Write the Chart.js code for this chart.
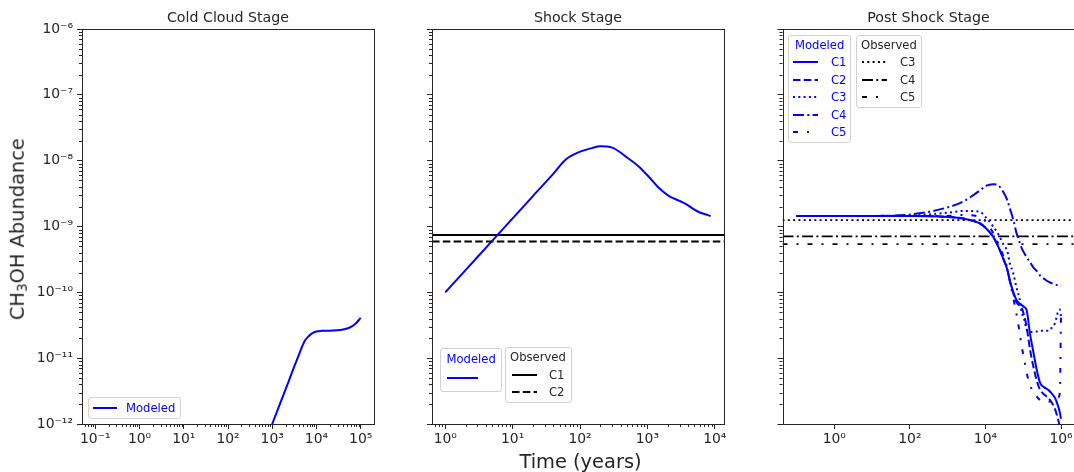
<!DOCTYPE html>
<html><head><meta charset="utf-8">
<script src="https://cdn.jsdelivr.net/npm/chart.js@4.4.1/dist/chart.umd.min.js"></script>
<style>
html,body{margin:0;padding:0;background:#fff;overflow:hidden;width:1074px;height:472px;}
#wrap{position:relative;width:1074px;height:472px;overflow:hidden;font-family:'DejaVu Sans',sans-serif;color:#1a1a1a;}
canvas{position:absolute;top:0;}
.t{position:absolute;white-space:nowrap;}
.box{position:absolute;border:1px solid #d2d2d2;border-radius:3px;background:rgba(255,255,255,0.85);box-sizing:border-box;}
svg{position:absolute;overflow:visible;}
</style></head><body><div id="wrap">
<canvas id="c1" width="380" height="472" style="left:0px"></canvas>
<canvas id="c2" width="350" height="472" style="left:380px"></canvas>
<canvas id="c3" width="350" height="472" style="left:730px"></canvas>
</div>
<script>
// ---------------- data ----------------
const panelTitles = ['Cold Cloud Stage', 'Shock Stage', 'Post Shock Stage'];
const yTicks = [1e-12, 1e-11, 1e-10, 1e-9, 1e-8, 1e-7, 1e-6];
const coldTicks = [1e-1, 1, 1e1, 1e2, 1e3, 1e4, 1e5];
const shockTicks = [1, 1e1, 1e2, 1e3, 1e4];
const postTicks = [1, 1e2, 1e4, 1e6];

const coldTime = [800, 1000, 1400, 1800, 2400, 3000, 4000, 4500, 5500, 6500, 7500, 8500, 10000, 13000, 20000, 35000, 55000, 75000, 100000];
const coldModeled = [6.8e-13, 1e-12, 1.8e-12, 2.8e-12, 4.6e-12, 6.9e-12, 1.12e-11, 1.38e-11, 1.85e-11, 2.12e-11, 2.32e-11, 2.45e-11, 2.55e-11, 2.6e-11, 2.62e-11, 2.68e-11, 2.9e-11, 3.3e-11, 4.1e-11];

const shockTime = [1, 2, 5, 10, 20, 40, 62, 98, 150, 200, 300, 480, 750, 1100, 1500, 2100, 3000, 3700, 5000, 5800, 7000, 8700];
const shockModeled = [1e-10, 2.18e-10, 6.1e-10, 1.33e-9, 2.9e-9, 6.3e-9, 1.05e-8, 1.36e-8, 1.55e-8, 1.65e-8, 1.58e-8, 1.15e-8, 8.1e-9, 5.4e-9, 3.8e-9, 2.9e-9, 2.45e-9, 2.2e-9, 1.8e-9, 1.66e-9, 1.55e-9, 1.44e-9];
const shockObservedLabels = ['C1', 'C2'];
const shockObserved = [7.4e-10, 5.9e-10];

const postTime = [0.1, 1, 10, 100, 1000, 2600, 7000, 10000, 16000, 22000, 30000, 38000, 44000, 55000, 67000, 80000, 91000, 105000, 123000, 150000, 185000, 230000, 280000, 360000, 460000, 570000, 690000, 830000, 930000, 1000000];
const postC1 = [1.45e-9, 1.45e-9, 1.45e-9, 1.45e-9, 1.4e-9, 1.32e-9, 1.12e-9, 9.6e-10, 7e-10, 4.9e-10, 3.2e-10, 2.2e-10, 1.53e-10, 1.0e-10, 7.6e-11, 6.8e-11, 6.4e-11, 6.0e-11, 5.4e-11, 2.4e-11, 1.25e-11, 6.5e-12, 4.2e-12, 3.6e-12, 3.3e-12, 2.9e-12, 2.5e-12, 1.9e-12, 1.5e-12, 1.2e-12];
const postC2 = [1.45e-9, 1.45e-9, 1.45e-9, 1.45e-9, 1.4e-9, 1.32e-9, 1.12e-9, 9.6e-10, 7e-10, 4.9e-10, 3.2e-10, 2.2e-10, 1.5e-10, 9.5e-11, 7e-11, 6.3e-11, 5.8e-11, 4.5e-11, 3e-11, 1.4e-11, 7.5e-12, 4.5e-12, 3.3e-12, 2.8e-12, 2.5e-12, 2.1e-12, 1.7e-12, 1.2e-12, 9e-13, 7e-13];
const postC3 = [1.45e-9, 1.45e-9, 1.45e-9, 1.46e-9, 1.62e-9, 1.72e-9, 1.68e-9, 1.4e-9, 1.0e-9, 7.6e-10, 5.3e-10, 4.2e-10, 2.8e-10, 1.9e-10, 1.15e-10, 8e-11, 5e-11, 4e-11, 2.7e-11, 2.5e-11, 2.5e-11, 2.55e-11, 2.6e-11, 2.6e-11, 2.6e-11, 2.9e-11, 3.4e-11, 5e-11, 5.5e-11, 4.3e-11];
const postC4 = [1.45e-9, 1.45e-9, 1.45e-9, 1.52e-9, 1.95e-9, 2.4e-9, 3.5e-9, 4.1e-9, 4.4e-9, 4.2e-9, 3.3e-9, 2.5e-9, 1.9e-9, 1.25e-9, 7.8e-10, 5.8e-10, 4.7e-10, 4e-10, 3.4e-10, 2.9e-10, 2.4e-10, 2.1e-10, 1.8e-10, 1.6e-10, 1.45e-10, 1.38e-10, 1.32e-10, 1.28e-10, 1.26e-10, 1.24e-10];
const postC5 = [1.45e-9, 1.45e-9, 1.45e-9, 1.45e-9, 1.45e-9, 1.5e-9, 1.4e-9, 1.2e-9, 8e-10, 5.5e-10, 3.5e-10, 2.3e-10, 1.5e-10, 8e-11, 4.5e-11, 2.5e-11, 1.5e-11, 1.0e-11, 6e-12, 4e-12, 3e-12, 2.6e-12, 2.3e-12, 2.2e-12, 2.2e-12, 2.2e-12, 2.3e-12, 2.5e-12, 3e-12, 4.5e-11];
const postModeledLabels = ['C1', 'C2', 'C3', 'C4', 'C5'];
const postObservedLabels = ['C3', 'C4', 'C5'];
const postObserved = [1.25e-9, 7.1e-10, 5.4e-10];

// ---------------- styles ----------------
const BLUE = '#0000ff', BLACK = '#000000', TXT = '#262626';
const FONT = "'DejaVu Sans', sans-serif";
const DASH = {
  solid: [], dashed: [7.5, 3.3], dotted: [2, 3.3],
  dashdot: [11, 3.3, 2, 3.3], loose: [5, 9, 2, 9]
};
const modeledStyles = [DASH.solid, DASH.dashed, DASH.dotted, DASH.dashdot, DASH.loose];
const observedStyleMap = {C1: DASH.solid, C2: DASH.dashed, C3: DASH.dotted, C4: DASH.dashdot, C5: DASH.loose};

const SUP = {'-':'\u207B','0':'\u2070','1':'\u00B9','2':'\u00B2','3':'\u00B3','4':'\u2074','5':'\u2075','6':'\u2076','7':'\u2077','8':'\u2078','9':'\u2079'};
function fmtPow(v){ const e = Math.round(Math.log10(v)); return '10' + String(e).split('').map(c=>SUP[c]).join(''); }

const framePlugin = {
  id: 'frame',
  afterDraw(chart, args, opts) {
    const {ctx, chartArea: a, scales} = chart;
    ctx.save();
    ctx.strokeStyle = TXT; ctx.lineWidth = 1;
    function minors(scale, axis) {
      const lo = Math.floor(Math.log10(scale.min)), hi = Math.ceil(Math.log10(scale.max));
      ctx.beginPath();
      for (let d = lo; d <= hi; d++) for (let k = 2; k <= 9; k++) {
        const v = k * Math.pow(10, d);
        if (v < scale.min || v > scale.max) continue;
        const p = Math.round(scale.getPixelForValue(v)) + 0.5;
        if (axis === 'x') { ctx.moveTo(p, a.bottom); ctx.lineTo(p, a.bottom + 3); }
        else { ctx.moveTo(a.left, p); ctx.lineTo(a.left - 3, p); }
      }
      ctx.stroke();
    }
    if (opts.minorX) minors(scales.x, 'x');
    minors(scales.y, 'y');
    ctx.strokeRect(Math.round(a.left) + 0.5, Math.round(a.top) + 0.5, Math.round(a.right - a.left), Math.round(a.bottom - a.top));
    ctx.restore();
  }
};

function line(xs, ys, color, dash, width) {
  return { data: xs.map((x, i) => ({x, y: ys[i]})), borderColor: color, borderDash: dash, borderWidth: width || 2,
    pointRadius: 0, fill: false, cubicInterpolationMode: 'monotone', borderCapStyle: 'butt' };
}
function hline(xmin, xmax, y, dash, width) {
  return { data: [{x: xmin, y}, {x: xmax, y}], borderColor: BLACK, borderDash: dash, borderWidth: width || 1.8,
    pointRadius: 0, fill: false, tension: 0, borderCapStyle: 'butt' };
}

function makeChart(id, datasets, xmin, xmax, xticks, yWidth, padRight, showY, minorX) {
  new Chart(document.getElementById(id), {
    type: 'line',
    data: { datasets },
    plugins: [framePlugin],
    options: {
      responsive: false, animation: false, events: [],
      layout: { padding: { top: 29, right: padRight, left: 0, bottom: 0 } },
      plugins: { legend: { display: false }, tooltip: { enabled: false }, frame: { minorX } },
      scales: {
        x: { type: 'logarithmic', min: xmin, max: xmax, bounds: 'data',
          afterBuildTicks: s => { s.ticks = xticks.map(v => ({value: v})); },
          afterFit: s => { s.height = 48; },
          grid: { display: true, drawOnChartArea: false, drawTicks: true, tickLength: 5, color: TXT, lineWidth: 1 },
          border: { display: false },
          ticks: { callback: v => fmtPow(v), font: { family: FONT, size: 13.9 }, color: TXT, padding: 2, maxRotation: 0, autoSkip: false }
        },
        y: { type: 'logarithmic', min: 1e-12, max: 1e-6, bounds: 'data',
          afterBuildTicks: s => { s.ticks = yTicks.map(v => ({value: v})); },
          afterFit: s => { s.width = yWidth; },
          grid: { display: true, drawOnChartArea: false, drawTicks: true, tickLength: 5, color: TXT, lineWidth: 1 },
          border: { display: false },
          ticks: { display: showY, callback: v => fmtPow(v), font: { family: FONT, size: 13.9 }, color: TXT, padding: 4, autoSkip: false }
        }
      }
    }
  });
}

// panel 1
const c1min = Math.pow(10, -1.3), c1max = Math.pow(10, 5.3);
makeChart('c1', [line(coldTime, coldModeled, BLUE, DASH.solid)], c1min, c1max, coldTicks, 82, 6, true, true);

// panel 2
const c2min = Math.pow(10, -0.197), c2max = Math.pow(10, 4.137);
const ds2 = [line(shockTime, shockModeled, BLUE, DASH.solid)];
shockObserved.forEach((v, i) => ds2.push(hline(c2min, c2max, v, observedStyleMap[shockObservedLabels[i]], 2)));
makeChart('c2', ds2, c2min, c2max, shockTicks, 52, 6, false, true);

// panel 3
const c3min = Math.pow(10, -1.37), c3max = Math.pow(10, 6.37);
const postSeries = [postC1, postC2, postC3, postC4, postC5];
const ds3 = postSeries.map((s, i) => line(postTime, s, BLUE, modeledStyles[i]));
postObserved.forEach((v, i) => ds3.push(hline(c3min, c3max, v, observedStyleMap[postObservedLabels[i]], 1.8)));
makeChart('c3', ds3, c3min, c3max, postTicks, 52.5, 5, false, false);

// ---------------- text & legends (HTML) ----------------
const wrap = document.getElementById('wrap');
function addText(html, left, top, size, color, extra) {
  const d = document.createElement('div'); d.className = 't';
  d.innerHTML = html; d.style.left = left + 'px'; d.style.top = top + 'px';
  d.style.fontSize = size + 'px'; d.style.color = color || TXT;
  if (extra) Object.assign(d.style, extra);
  wrap.appendChild(d); return d;
}
function addBox(x, y, w, h) {
  const d = document.createElement('div'); d.className = 'box';
  Object.assign(d.style, {left: x + 'px', top: y + 'px', width: w + 'px', height: h + 'px'});
  wrap.appendChild(d);
}
function addLine(x1, x2, y, color, dash, width) {
  const ns = 'http://www.w3.org/2000/svg';
  const s = document.createElementNS(ns, 'svg');
  s.setAttribute('width', x2 - x1); s.setAttribute('height', 6);
  s.style.left = x1 + 'px'; s.style.top = (y - 3) + 'px';
  const l = document.createElementNS(ns, 'line');
  l.setAttribute('x1', 0); l.setAttribute('x2', x2 - x1); l.setAttribute('y1', 3); l.setAttribute('y2', 3);
  l.setAttribute('stroke', color); l.setAttribute('stroke-width', width || 2);
  if (dash.length) l.setAttribute('stroke-dasharray', dash.join(' '));
  s.appendChild(l); wrap.appendChild(s);
}
const LEG = 11.6;
function legText(t, x, cy, color) { addText(t, x, cy - 8, LEG, color, {lineHeight: '16px'}); }

// titles
const centers = [228, 578, 928.5];
panelTitles.forEach((t, i) => addText(t, centers[i] - 150, 8, 14.2, TXT, {width: '300px', textAlign: 'center', lineHeight: '18px'}));
// axis labels
addText('Time (years)', 580.5 - 150, 450.3, 19.4, TXT, {width: '300px', textAlign: 'center', lineHeight: '24px'});
addText('CH<sub style="font-size:0.7em;vertical-align:-0.25em">3</sub>OH Abundance', 19.5 - 150, 226.5 - 12, 19.4, TXT,
  {width: '300px', textAlign: 'center', lineHeight: '24px', transform: 'rotate(-90deg)'});

// legend panel 1
addBox(88, 397, 93, 22);
addLine(93, 117, 407.5, BLUE, DASH.solid, 2);
legText('Modeled', 126, 407.5, BLUE);

// legends panel 2
addBox(440, 348, 62, 44);
legText('Modeled', 446.5, 359, BLUE);
addLine(447, 478, 378, BLUE, DASH.solid, 2);
addBox(505, 347, 67, 56);
legText('Observed', 510, 357, TXT);
shockObservedLabels.forEach((lab, i) => {
  const y = 374.5 + i * 17.5;
  addLine(512, 537, y, BLACK, observedStyleMap[lab], 2);
  legText(lab, 549, y, TXT);
});

// legends panel 3
addBox(788, 35, 63, 108);
legText('Modeled', 795, 45, BLUE);
postModeledLabels.forEach((lab, i) => {
  const y = 62 + i * 17.5;
  addLine(793, 818, y, BLUE, modeledStyles[i], 2);
  legText(lab, 831, y, BLUE);
});
addBox(856, 35, 66, 73);
legText('Observed', 861, 45, TXT);
postObservedLabels.forEach((lab, i) => {
  const y = 62 + i * 17.5;
  addLine(862, 887, y, BLACK, observedStyleMap[lab], 1.8);
  legText(lab, 900, y, TXT);
});
</script>
</body></html>
